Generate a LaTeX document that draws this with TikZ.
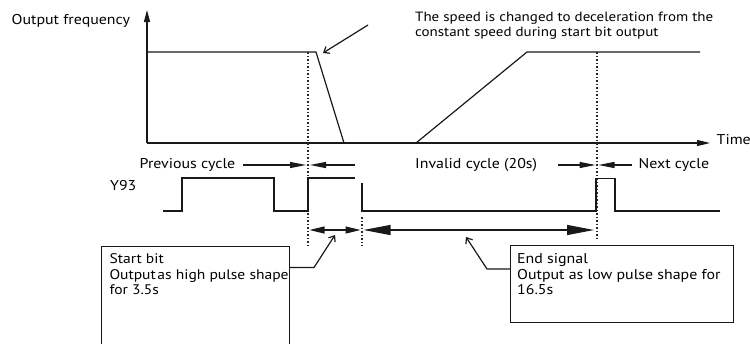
\documentclass[tikz,border=0pt]{standalone}
\usepackage{fontspec}
\setmainfont{PT Sans}[FakeStretch=1.12]
\usetikzlibrary{arrows.meta}
\begin{document}
\begin{tikzpicture}[x=1pt,y=-1pt,
  every node/.style={font=\fontsize{14.2}{15.5}\selectfont, inner sep=0pt, text=black},
  ln/.style={line width=1.2pt, black!90},
  dotl/.style={line width=1.1pt, black!85, dash pattern=on 1.6pt off 1.9pt},
  axisarrow/.style={ln, -{Triangle[length=12pt,width=6pt]}},
  cyc/.style={ln, -{Triangle[length=16pt,width=6pt]}},
  dshort/.style={ln, {Triangle[length=15pt,width=7pt]}-{Triangle[length=15pt,width=7pt]}},
  dlong/.style={ln, {Triangle[length=27pt,width=10pt]}-{Triangle[length=27pt,width=10pt]}},
  callout/.style={ln, -{Straight Barb[length=5pt,width=8pt]}},
  lbl/.style={anchor=base west},
  infobox/.style={draw=black!90, line width=1.2pt, anchor=north west, minimum width=#1},
  infotext/.style={anchor=north west, align=left}
]
\useasboundingbox (0,0) rectangle (750,343);

% axes
\coordinate (O) at (147,143);
\coordinate (Ytop) at (147,10);
\coordinate (Tend) at (710,143);
\draw[axisarrow] (O) -- (Ytop);
\draw[ln, -{Triangle[length=13pt,width=6pt]}] (O) -- (Tend);
\node[lbl] (ylabel) at (11.5,24.5) {Output frequency};
\node[lbl] (tlabel) at (716.5,144.5) {Time};

% frequency profile
\coordinate (f1) at (147,52);
\coordinate (f2) at (316,52);
\coordinate (f3) at (344,143);
\coordinate (f4) at (416,143);
\coordinate (f5) at (527,52);
\coordinate (f6) at (700,52);
\draw[ln] (f1) -- (f2) -- (f3);
\draw[ln] (f4) -- (f5) -- (f6);

% annotation
\node[infotext, font=\fontsize{13.4}{15.8}\selectfont] (note) at (415,11.5) {The speed is changed to deceleration from the\\constant speed during start bit output};
\coordinate (n1) at (368,25);
\coordinate (n2) at (323,53);
\draw[callout] (n1) -- (n2);

% dotted guides
\coordinate (d1t) at (308,52);
\coordinate (d1b) at (308,246);
\coordinate (d2t) at (362,217);
\coordinate (d2b) at (362,246);
\coordinate (d3t) at (597,52);
\coordinate (d3b) at (597,240);
\draw[dotl] (d1t) -- (d1b);
\draw[dotl] (d2t) -- (d2b);
\draw[dotl] (d3t) -- (d3b);

% cycle labels and arrows
\node[lbl] (prev) at (139.5,168.5) {Previous cycle};
\node[lbl] (inv) at (415,168.5) {Invalid cycle (20s)};
\node[lbl] (next) at (638.5,168.5) {Next cycle};
\coordinate (pc1) at (243,165);
\coordinate (pc2) at (306,165);
\coordinate (ic1) at (355,165);
\coordinate (ic2) at (310,165);
\coordinate (ic3) at (558,165);
\coordinate (ic4) at (595.5,165);
\coordinate (nc1) at (632,165);
\coordinate (nc2) at (598.5,165);
\draw[cyc] (pc1) -- (pc2);
\draw[cyc] (ic1) -- (ic2);
\draw[cyc] (ic3) -- (ic4);
\draw[cyc] (nc1) -- (nc2);

% Y93 waveform
\node[lbl] (y93) at (110,190.5) {Y93};
\coordinate (w1) at (163,211);
\coordinate (w2) at (182,211);
\coordinate (w3) at (182,178);
\coordinate (w4) at (274,178);
\coordinate (w5) at (274,211);
\coordinate (w6) at (308,211);
\coordinate (w7) at (308,178);
\coordinate (w8) at (355,178);
\coordinate (w9) at (362,183);
\coordinate (w10) at (362,211);
\coordinate (w11) at (596,211);
\coordinate (w12) at (596,178.5);
\coordinate (w13) at (615,178.5);
\coordinate (w14) at (615,211);
\coordinate (w15) at (720,211);
\draw[ln] (w1) -- (w2) -- (w3) -- (w4) -- (w5) -- (w6) -- (w7) -- (w8);
\draw[ln] (w9) -- (w10) -- (w11) -- (w12) -- (w13) -- (w14) -- (w15);

% duration arrows
\coordinate (sa) at (309.5,230);
\coordinate (sb) at (360.5,230);
\coordinate (la) at (363.5,230);
\coordinate (lb) at (594,230);
\draw[dshort] (sa) -- (sb);
\draw[dlong] (la) -- (lb);

% start bit box
\node[infobox=188pt, minimum height=120pt] (sbox) at (101,246) {};
\node[infotext, font=\fontsize{13.9}{15.5}\selectfont] (stext) at (109.3,253.6) {Start bit\\Output\hspace{1.5pt}as high pulse shape\\for 3.5s};
\coordinate (c1a) at (289,267.5);
\coordinate (c1b) at (314,267.5);
\coordinate (c1c) at (335,235);
\draw[callout] (c1a) -- (c1b) -- (c1c);

% end signal box
\node[infobox=223pt, minimum height=77pt] (ebox) at (510,245) {};
\node[infotext] (etext) at (517,253.6) {End signal\\Output as low pulse shape for\\16.5s};
\coordinate (c2a) at (510,269);
\coordinate (c2b) at (487,269);
\coordinate (c2c) at (466,237);
\draw[callout] (c2a) -- (c2b) -- (c2c);
\end{tikzpicture}
\end{document}
